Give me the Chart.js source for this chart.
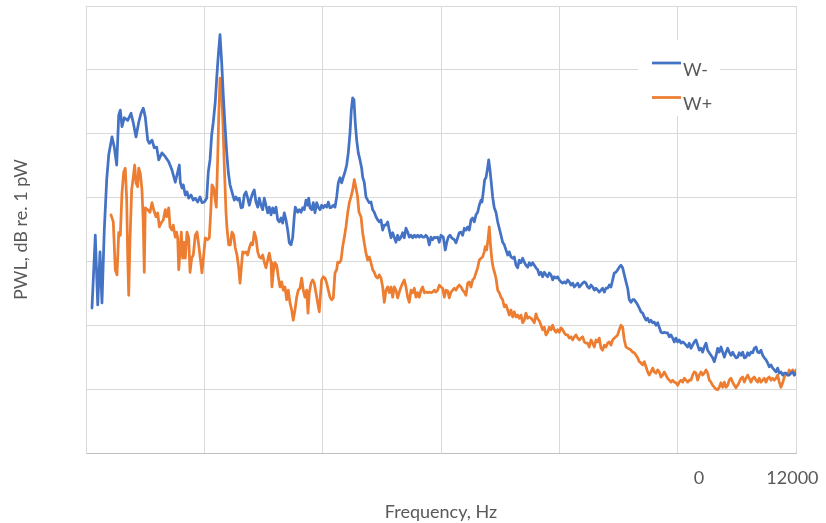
<!DOCTYPE html>
<html>
<head>
<meta charset="utf-8">
<script src="https://cdn.jsdelivr.net/npm/chart.js@4.4.1/dist/chart.umd.min.js"></script>
<style>
  html, body { margin: 0; padding: 0; background: #fff; }
  #wrap { width: 826px; height: 523px; }
</style>
</head>
<body>
<div id="wrap"><canvas id="pwlChart" width="826" height="523"></canvas></div>
<script>
// Datos (Hz, dB)
const freqMinus = [101,157,198,237,270,309,350,384,439,478,519,553,580,608,647,705,761,799,845,891,930,968,1002,1043,1070,1115,1154,1195,1229,1284,1340,1398,1453,1509,1550,1577,1594,1622,1644,1678,1707,1736,1775,1813,1847,1888,1927,1960,1999,2040,2067,2096,2124,2151,2185,2209,2236,2265,2293,2320,2349,2378,2405,2434,2467,2506,2535,2564,2591,2620,2648,2675,2704,2733,2760,2789,2817,2844,2873,2902,2929,2958,2986,3013,3042,3071,3098,3127,3155,3182,3211,3240,3267,3296,3324,3351,3380,3409,3436,3465,3493,3520,3537,3578,3605,3634,3662,3689,3718,3747,3764,3786,3815,3842,3870,3899,3926,3955,3983,4010,4039,4068,4095,4124,4152,4180,4208,4237,4264,4293,4321,4349,4377,4406,4433,4462,4484,4507,4529,4551,4575,4602,4631,4659,4676,4703,4732,4761,4788,4817,4845,4872,4901,4930,4957,4986,5014,5042,5070,5099,5126,5155,5183,5210,5239,5268,5295,5324,5352,5380,5408,5437,5464,5493,5521,5549,5577,5606,5633,5662,5690,5718,5746,5775,5802,5831,5859,5887,5915,5944,5971,6000,6039,6072,6096,6123,6152,6180,6224,6253,6282,6309,6338,6366,6394,6422,6451,6478,6507,6535,6563,6591,6620,6647,6676,6693,6715,6738,6760,6782,6806,6828,6850,6873,6900,6929,6958,6985,7014,7042,7070,7098,7127,7154,7183,7211,7239,7268,7296,7323,7352,7380,7408,7436,7465,7492,7521,7549,7577,7605,7634,7661,7690,7718,7746,7774,7803,7830,7859,7887,7915,7943,7972,7999,8028,8056,8084,8112,8141,8168,8197,8225,8253,8281,8310,8337,8366,8394,8422,8450,8479,8506,8535,8563,8591,8619,8648,8675,8704,8732,8760,8788,8817,8844,8873,8901,8929,8957,8986,9013,9042,9070,9098,9127,9155,9182,9211,9239,9267,9296,9324,9351,9380,9409,9436,9465,9493,9520,9549,9578,9605,9634,9662,9689,9718,9746,9774,9802,9831,9858,9887,9915,9943,9971,10000,10027,10056,10085,10112,10141,10169,10196,10225,10253,10281,10310,10338,10365,10394,10422,10450,10479,10507,10534,10563,10592,10619,10648,10676,10703,10732,10761,10788,10817,10845,10872,10901,10930,10957,10986,11014,11041,11070,11099,11126,11155,11183,11210,11239,11268,11295,11324,11352,11379,11408,11437,11464,11493,11521,11548,11577,11606,11633,11662,11690,11717,11746,11775,11802,11831,11859,11886,11915,11944,11971,12000];
const levelMinus = [22.7,34.1,23.2,31.5,23.5,34.9,42.8,46.7,49.5,47.9,45.1,52.9,53.7,51.1,52.5,52.1,53.2,51.7,49.5,51.8,53.2,54.0,52.6,49.0,48.5,49.0,47.8,47.9,45.9,47.0,46.4,45.6,44.3,42.4,44.0,45.1,42.4,41.5,42.0,40.4,40.9,39.9,40.4,39.6,39.9,39.3,40.1,39.2,39.3,39.9,44.0,45.9,49.8,51.8,55.0,58.7,62.3,65.5,61.2,56.1,51.4,47.1,44.0,42.0,40.9,39.6,40.1,39.6,39.9,38.4,38.5,40.4,40.9,39.9,38.8,39.9,40.7,41.2,39.3,38.5,39.9,38.8,38.1,39.9,38.8,37.6,38.5,37.3,38.4,37.6,38.5,36.5,36.2,36.8,36.0,37.6,36.5,34.9,32.9,32.6,33.7,37.0,38.5,37.7,38.1,37.7,38.4,38.1,39.6,38.8,39.9,38.4,38.1,39.2,37.6,39.2,38.5,38.1,38.8,38.4,38.8,38.5,39.3,38.4,38.5,38.8,38.5,40.1,42.3,43.1,42.3,43.2,44.0,45.1,47.0,50.1,53.7,55.6,55.3,51.7,49.0,47.0,45.9,44.6,43.2,42.4,40.1,39.6,39.2,39.3,38.1,37.7,37.0,36.5,36.2,36.5,34.9,35.7,35.7,36.2,34.9,33.7,34.5,33.8,33.0,34.1,33.4,33.8,34.5,33.7,35.2,34.6,33.8,34.1,33.7,34.1,33.8,34.1,33.8,34.1,33.8,33.8,34.1,33.7,32.6,33.8,33.4,33.8,33.7,33.8,33.0,34.1,33.8,31.8,32.9,33.8,34.1,33.7,33.4,32.9,33.7,34.5,34.6,34.1,35.2,34.9,35.4,34.9,36.5,36.8,36.2,37.3,37.7,38.8,39.6,39.3,40.9,42.8,43.1,44.3,45.9,44.3,42.3,40.1,38.4,37.7,36.2,35.2,34.1,33.0,32.6,31.8,31.0,31.5,30.7,30.5,30.7,29.4,29.0,30.2,29.8,30.5,29.9,29.4,29.1,29.8,29.4,29.8,29.4,29.0,28.7,27.9,28.3,27.6,28.3,27.9,27.6,28.2,27.9,27.1,27.6,27.4,27.6,27.1,26.8,26.6,26.8,26.6,27.1,26.8,26.3,26.6,26.0,26.3,26.6,26.0,26.3,26.6,26.8,26.6,26.0,25.8,26.3,26.0,25.5,25.8,25.5,25.2,25.5,25.8,25.2,25.8,25.8,26.3,26.0,27.1,28.2,28.3,28.7,29.1,29.4,29.0,27.9,26.8,25.8,24.0,23.6,24.0,24.0,23.6,23.2,22.7,22.1,21.9,21.3,20.8,21.1,20.5,20.8,20.4,20.5,20.0,20.4,19.7,18.9,18.8,18.9,18.8,18.8,18.2,18.5,18.0,17.4,18.0,17.4,17.7,17.2,17.4,17.2,16.9,16.6,17.2,16.4,16.9,17.4,17.7,16.9,16.1,16.4,15.8,16.6,17.2,16.1,15.7,15.3,14.9,14.3,15.2,16.4,15.8,16.6,15.8,15.0,15.8,16.4,15.8,15.3,15.8,15.3,14.9,15.0,15.7,15.3,15.8,14.9,15.0,15.7,15.3,15.8,15.7,16.4,16.6,15.8,15.7,16.1,15.3,14.9,14.6,14.1,13.5,13.8,13.3,13.0,12.7,13.3,12.5,12.7,12.2,12.5,12.5,12.2,12.2,12.5,12.7,12.2,12.5];
const freqPlus = [423,461,495,524,553,580,608,637,664,688,705,722,744,772,799,823,845,874,891,918,946,968,985,1002,1043,1082,1115,1144,1183,1212,1239,1268,1306,1340,1364,1398,1420,1453,1475,1509,1530,1550,1567,1589,1611,1634,1656,1678,1707,1736,1758,1786,1813,1847,1876,1905,1932,1960,1989,2016,2057,2084,2108,2129,2158,2180,2202,2226,2243,2265,2293,2315,2337,2366,2383,2412,2439,2467,2496,2523,2552,2581,2603,2625,2648,2675,2704,2733,2760,2789,2817,2844,2873,2902,2929,2958,2986,3013,3042,3071,3098,3127,3143,3165,3194,3223,3250,3279,3307,3334,3363,3392,3419,3448,3476,3503,3532,3561,3588,3617,3645,3672,3701,3730,3752,3774,3803,3831,3858,3887,3916,3943,3960,3983,4010,4039,4068,4095,4124,4152,4180,4208,4237,4254,4281,4310,4338,4366,4394,4423,4450,4479,4507,4535,4563,4589,4614,4648,4676,4703,4732,4761,4788,4817,4845,4872,4901,4930,4957,4986,5014,5042,5070,5099,5126,5155,5183,5210,5239,5268,5295,5324,5352,5380,5408,5437,5464,5493,5521,5549,5577,5606,5633,5662,5690,5718,5746,5775,5802,5831,5859,5887,5915,5944,5971,6000,6028,6056,6084,6113,6140,6169,6198,6224,6253,6282,6309,6338,6366,6394,6422,6451,6478,6507,6535,6563,6591,6620,6647,6676,6704,6731,6748,6772,6794,6816,6839,6861,6883,6907,6929,6958,6985,7014,7042,7070,7098,7127,7154,7183,7211,7239,7268,7296,7323,7352,7380,7408,7436,7465,7492,7521,7549,7577,7605,7634,7661,7690,7718,7746,7774,7803,7830,7859,7887,7915,7943,7972,7999,8028,8056,8084,8112,8141,8168,8197,8225,8253,8281,8310,8337,8366,8394,8422,8450,8479,8506,8535,8563,8591,8619,8648,8675,8704,8732,8760,8788,8817,8844,8873,8901,8929,8957,8986,9013,9042,9070,9098,9127,9155,9182,9211,9239,9267,9296,9324,9351,9380,9409,9436,9465,9493,9520,9549,9578,9605,9634,9662,9689,9718,9746,9774,9802,9831,9858,9887,9915,9943,9971,10000,10027,10056,10085,10112,10141,10169,10196,10225,10253,10281,10310,10338,10365,10394,10422,10450,10479,10507,10534,10563,10592,10619,10648,10676,10703,10732,10761,10788,10817,10845,10872,10901,10930,10957,10986,11014,11041,11070,11099,11126,11155,11183,11210,11239,11268,11295,11324,11352,11379,11408,11437,11464,11493,11521,11548,11577,11606,11633,11662,11690,11717,11746,11775,11802,11831,11859,11886,11915,11944,11971,12000];
const levelPlus = [37.3,36.2,28.7,27.9,34.5,34.1,40.7,44.0,44.6,39.6,30.7,24.7,33.4,41.2,43.2,45.1,42.3,41.7,44.6,43.8,41.2,36.0,28.3,38.4,38.1,37.7,39.2,38.1,37.0,37.6,35.4,36.0,36.5,38.1,37.0,38.4,35.4,34.9,35.7,33.8,34.6,33.7,28.7,31.5,34.6,30.5,33.0,30.5,34.6,33.7,28.3,30.5,31.0,34.1,34.6,32.6,30.5,28.2,31.0,33.7,33.4,33.7,37.7,42.0,41.5,39.9,38.5,46.2,52.5,58.7,56.5,51.4,45.1,37.7,35.2,32.6,32.6,34.6,34.1,32.1,31.0,29.0,26.6,29.0,31.5,31.3,31.5,31.0,32.1,32.9,32.6,34.6,33.7,31.5,30.7,30.5,31.0,29.9,29.0,30.2,31.3,29.8,26.0,28.3,29.8,29.4,27.6,26.0,26.8,25.5,26.0,24.0,25.5,23.5,22.4,20.8,22.4,24.4,25.5,25.8,27.4,25.5,24.4,25.5,21.9,25.1,26.6,27.1,26.6,25.1,23.5,22.1,24.4,27.1,27.6,27.4,26.6,25.5,24.4,24.0,24.3,28.2,28.7,29.9,29.8,30.2,32.3,33.8,35.4,37.6,39.2,40.1,41.2,42.8,41.5,40.2,37.7,37.0,34.5,32.9,31.3,30.2,30.7,29.8,28.7,28.3,27.6,27.4,27.9,27.4,26.0,23.6,25.5,26.0,25.1,26.0,24.4,26.0,25.5,24.3,25.2,26.0,26.6,27.1,26.0,24.4,23.6,25.5,25.1,25.8,24.4,25.1,24.4,25.5,26.0,25.1,25.2,25.1,25.2,25.1,25.2,25.5,25.2,25.5,26.3,26.0,25.8,24.4,25.5,25.4,24.3,25.2,25.5,25.8,25.5,26.0,26.3,26.0,25.5,25.2,24.7,26.6,26.8,26.0,27.1,27.4,28.2,29.0,30.2,30.5,30.7,31.5,32.3,31.8,33.4,35.4,32.3,30.2,29.0,28.2,27.4,25.5,25.1,24.4,24.0,22.9,23.2,22.4,21.6,22.4,21.3,22.1,21.3,21.6,21.1,21.6,20.4,20.8,21.9,21.1,21.3,21.1,20.8,20.4,21.8,21.0,20.7,20.0,19.3,19.7,18.5,18.9,19.7,19.3,20.0,19.3,18.9,19.3,18.9,19.6,19.3,18.8,18.5,18.5,18.0,18.2,17.7,18.2,18.5,18.0,17.7,18.0,18.2,17.4,17.2,17.2,16.6,17.7,17.2,16.6,17.7,17.4,18.0,16.4,16.1,16.9,16.6,17.2,17.4,16.9,17.7,18.0,18.2,18.5,19.3,20.0,19.7,17.7,16.6,16.4,16.3,16.1,15.8,15.7,15.3,14.9,14.3,14.1,13.8,14.3,13.5,12.7,12.2,12.7,13.3,12.7,12.5,13.0,12.7,11.9,12.2,12.7,12.2,11.7,11.4,11.1,11.4,11.1,11.0,10.6,11.1,11.4,11.1,11.7,11.4,11.1,11.4,11.4,12.2,12.7,12.5,11.4,12.2,12.7,12.2,12.5,13.0,12.5,11.4,11.1,10.6,10.3,10.0,9.9,10.3,11.0,10.3,11.1,10.3,10.6,11.4,11.7,11.1,10.6,10.2,10.6,11.1,11.7,11.9,11.1,11.7,12.2,11.7,11.1,11.7,11.9,11.4,11.1,11.7,11.1,11.4,11.7,11.1,11.7,11.9,11.4,11.7,11.4,11.7,12.2,11.1,10.3,11.0,11.9,12.5,12.2,13.0,12.5,13.0,12.2,13.0];
const seriesNames = ['W-', 'W+'];
const xTickValues = [10360, 11940];
const xTickLabels = ['0', '12000'];

const textColor = '#595959';
const gridColor = '#d9d9d9';
const fontFamily = 'Lato, "Open Sans", sans-serif';
const labelFont = { family: fontFamily, size: 18 };

function toPoints(xs, ys) {
    const n = Math.min(xs.length, ys.length);
    const pts = [];
    for (let i = 0; i < n; i++) pts.push({ x: xs[i], y: ys[i] });
    return pts;
}

// leyenda dentro del area del grafico, como en el original
const insideLegend = {
    id: 'insideLegend',
    afterDatasetsDraw(chart) {
        const ctx = chart.ctx;
        ctx.save();
        ctx.fillStyle = '#ffffff';
        ctx.fillRect(638, 40, 82, 76);
        chart.data.datasets.forEach((ds, i) => {
            const y = 63 + i * 34.5;
            ctx.strokeStyle = ds.borderColor;
            ctx.lineWidth = 2.75;
            ctx.beginPath();
            ctx.moveTo(652, y);
            ctx.lineTo(681, y);
            ctx.stroke();
            ctx.fillStyle = textColor;
            ctx.font = '18px ' + fontFamily;
            ctx.textBaseline = 'middle';
            ctx.textAlign = 'left';
            ctx.fillText(ds.label, 683, y + 7);
        });
        ctx.restore();
    }
};

new Chart(document.getElementById('pwlChart'), {
    type: 'line',
    data: {
        datasets: [
            { label: seriesNames[0], data: toPoints(freqMinus, levelMinus), borderColor: '#4472C4', xAxisID: 'x', yAxisID: 'y' },
            { label: seriesNames[1], data: toPoints(freqPlus, levelPlus), borderColor: '#ED7D31', xAxisID: 'x', yAxisID: 'y' }
        ]
    },
    options: {
        responsive: false,
        animation: false,
        devicePixelRatio: 1,
        layout: { padding: { top: 6, right: 30, left: 0, bottom: 0 } },
        plugins: { legend: { display: false }, tooltip: { enabled: false } },
        elements: {
            point: { radius: 0 },
            line: { borderWidth: 2.75, tension: 0, fill: false, borderJoinStyle: 'round', borderCapStyle: 'round' }
        },
        scales: {
            x: {
                type: 'linear', axis: 'x', position: 'bottom', weight: 0,
                min: 0, max: 12000,
                ticks: { display: false, stepSize: 2000 },
                grid: { color: gridColor, drawTicks: false },
                border: { color: '#bfbfbf' }
            },
            xLabels: {
                type: 'linear', axis: 'x', position: 'bottom', weight: 1,
                min: 0, max: 12000,
                grid: { display: false, drawTicks: false },
                border: { display: false },
                afterBuildTicks: (s) => { s.ticks = xTickValues.map(v => ({ value: v })); },
                ticks: {
                    color: textColor, font: labelFont, padding: 14,
                    maxRotation: 0, autoSkip: false,
                    callback: (v, i) => xTickLabels[i]
                },
                title: { display: true, text: 'Frequency, Hz', color: textColor, font: labelFont, padding: { top: 0, bottom: 0 } },
                afterFit: (s) => { s.height = 70; s.paddingLeft = 0; s.paddingRight = 0; }
            },
            y: {
                min: 0, max: 70,
                ticks: { display: false, stepSize: 10 },
                grid: { color: gridColor, drawTicks: false },
                border: { color: gridColor },
                title: { display: true, text: 'PWL, dB re. 1 pW', color: textColor, font: labelFont, padding: { top: 10, bottom: 0 } },
                afterFit: (s) => { s.width = 86; }
            }
        }
    },
    plugins: [insideLegend]
});
</script>
</body>
</html>
